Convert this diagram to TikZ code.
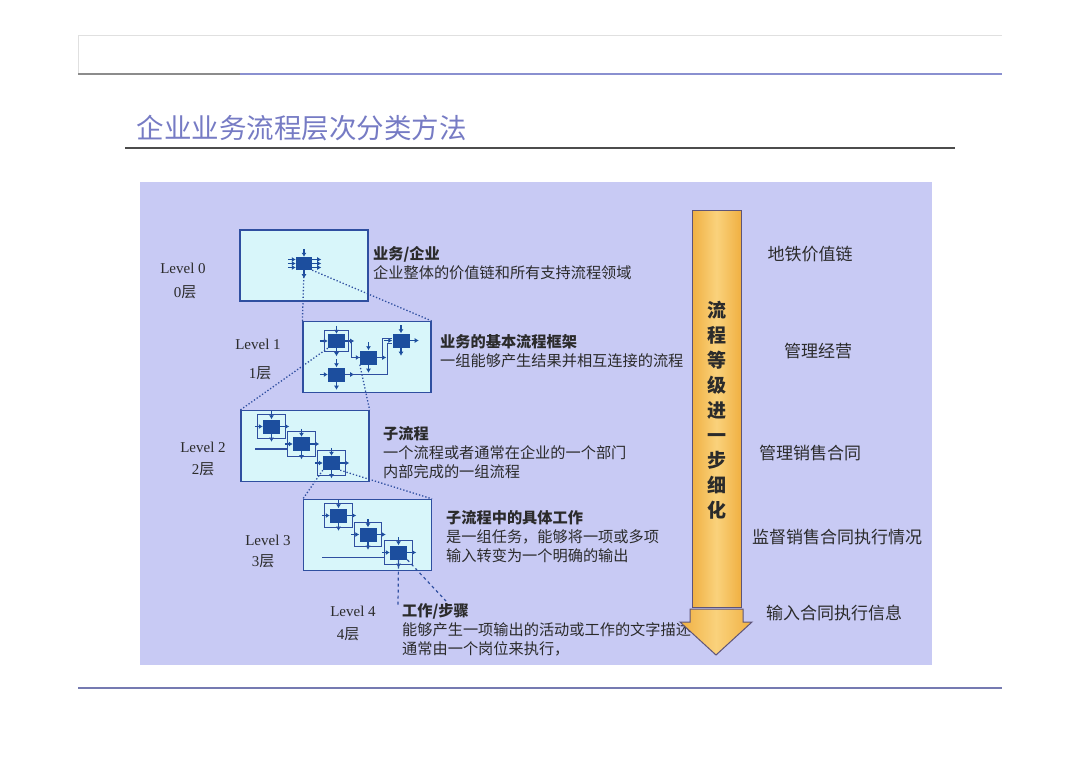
\documentclass[tikz,border=0pt]{standalone}
\usepackage{fontspec}
\setmainfont{Liberation Serif}
\newfontfamily\cjk{Noto Sans CJK SC}
\usepackage{tikz}
\usetikzlibrary{arrows.meta,positioning,fit}
\usepackage{xcolor}
\definecolor{panel}{HTML}{C8CAF4}
\definecolor{cyanbox}{HTML}{D8F6FA}
\definecolor{frame}{HTML}{2F4FA0}
\definecolor{icon}{HTML}{1C4E9E}
\definecolor{titleblue}{HTML}{767BC4}
\definecolor{headblue}{HTML}{8A90D0}
\definecolor{ink}{HTML}{2B2B2B}
\definecolor{orA}{HTML}{F0B042}
\definecolor{orB}{HTML}{FAD27C}
\definecolor{arrowedge}{HTML}{5E5478}

\begin{document}
\begin{tikzpicture}[x=1pt, y=-1pt, >=Latex, font=\cjk, text=ink,
  level/.style={draw=frame, line width=1.2pt, fill=cyanbox, minimum width=128pt, minimum height=71pt, inner sep=0pt},
  proc/.style={fill=icon, minimum width=17pt, minimum height=14pt, inner sep=0pt},
  frm/.style={draw=frame, line width=1.2pt, inner sep=5pt},
  wire/.style={draw=frame, line width=1.2pt},
  stub/.style={draw=icon, line width=1.5pt, -{Latex[length=4pt,width=5pt]}},
  zoomline/.style={draw=frame, line width=1.3pt, dotted},
  lvl/.style={font=\fontsize{15}{18}\selectfont\rmfamily},
  desc/.style={anchor=west, align=left, inner sep=0pt, font=\fontsize{15.2}{19}\selectfont\cjk},
  side/.style={font=\fontsize{17}{20}\selectfont\cjk}]
\useasboundingbox (0,0) rectangle (1080,763);

% page header and title
\draw[black!12, line width=0.8pt] (78,74) -- (78,35) -- (1002,35);
\draw[black!45, line width=1.4pt] (78,74) -- (240,74);
\draw[headblue, line width=2pt] (240,74) -- (1002,74);
\node[anchor=west, text=titleblue, font=\fontsize{27.5}{30}\selectfont\cjk] (title) at (133,128) {企业业务流程层次分类方法};
\draw[black!70, line width=1.4pt] (125,148) -- (955,148);
\fill[panel] (140,182) rectangle (932,665);
\draw[headblue!85!black, line width=2pt] (78,688) -- (1002,688);

% level boxes
\node[level] (l0) at (304,265.5) {};
\node[level] (l1) at (367,357) {};
\node[level] (l2) at (305,446) {};
\node[level] (l3) at (367.5,535) {};

% process icons
\node[proc, minimum width=16pt, minimum height=13pt] (a0) at (304,263.5) {};
\node[proc] (b1) at (336.5,341) {};
\node[proc] (b2) at (368.5,357.5) {};
\node[proc] (b3) at (401,340.5) {};
\node[proc] (b4) at (336.5,374.5) {};
\node[proc] (c1) at (271.5,426.5) {};
\node[proc] (c2) at (301.5,444) {};
\node[proc] (c3) at (331.5,463) {};
\node[proc] (d1) at (338.5,515.5) {};
\node[proc] (d2) at (368,534.5) {};
\node[proc] (d3) at (398.5,552.5) {};
\foreach \n in {a0,b1,b2,b3,b4,c1,c2,c3,d1,d2,d3} {
  \draw[stub] ([yshift=8pt]\n.north) -- (\n.north);
  \draw[stub] (\n.south) -- ([yshift=-8pt]\n.south);
  \draw[stub] ([xshift=-8pt]\n.west) -- (\n.west);
  \draw[stub] (\n.east) -- ([xshift=9pt]\n.east);
}
\foreach \s in {-4,4} {
  \draw[stub] ([xshift=-8pt,yshift=\s pt]a0.west) -- ([yshift=\s pt]a0.west);
  \draw[stub] ([yshift=\s pt]a0.east) -- ([xshift=9pt,yshift=\s pt]a0.east);
}

% frames and wires
\node[frm, fit=(b1), inner sep=3pt] (fb1) {};
\draw[wire] (fb1.east) -- ++(3,0) |- (b2.west);
\draw[wire] (b2.east) -- ++(5,0) |- ([yshift=2pt]b3.west);
\draw[wire] (b4.east) -- ++(42,0) |- ([yshift=-3pt]b3.west);
\node[frm, fit=(c1)] (fc1) {};
\node[frm, fit=(c2)] (fc2) {};
\node[frm, fit=(c3)] (fc3) {};
\draw[wire] ([yshift=-5pt]fc2.west) -- ++(-32,0);
\node[frm, fit=(d1)] (fd1) {};
\node[frm, fit=(d2)] (fd2) {};
\node[frm, fit=(d3)] (fd3) {};
\draw[wire] ([yshift=-5pt]fd3.west) -- ++(-62,0);

% zoom lines between levels
\coordinate (l4a) at (398,606);
\coordinate (l4b) at (446,601);
\draw[zoomline] (a0.south) -- (l1.north west);
\draw[zoomline] (a0.south east) -- (l1.north east);
\draw[zoomline] (b1.south west) -- (l2.north west);
\draw[zoomline] (b2.south west) -- (l2.north east);
\draw[zoomline] (c3.south west) -- (l3.north west);
\draw[zoomline] (c3.south east) -- (l3.north east);
\draw[frame, line width=1.2pt, dashed] (d3.south) -- (l4a);
\draw[frame, line width=1.2pt, dashed] (d3.south east) -- (l4b);

% level labels
\foreach \i/\x/\y/\xx/\yy in {0/183/268/185/292, 1/258/344/260/373, 2/203/447/203/469, 3/268/540/263/561, 4/353/611/348/634} {
  \node[lvl] (lv\i) at (\x,\y) {Level \i};
  \node[lvl] (ly\i) at (\xx,\yy) {\i{\cjk 层}};
}

% descriptions
\node[desc] (d0txt) at (373,263.5) {{\bfseries 业务/企业}\\企业整体的价值链和所有支持流程领域};
\node[desc] (d1txt) at (440,351.5) {{\bfseries 业务的基本流程框架}\\一组能够产生结果并相互连接的流程};
\node[desc] (d2txt) at (383,452.5) {{\bfseries 子流程}\\一个流程或者通常在企业的一个部门\\内部完成的一组流程};
\node[desc] (d3txt) at (446,537) {{\bfseries 子流程中的具体工作}\\是一组任务，能够将一项或多项\\输入转变为一个明确的输出};
\node[desc] (d4txt) at (402,629.5) {{\bfseries 工作/步骤}\\能够产生一项输出的活动或工作的文字描述\\通常由一个岗位来执行，};

% refinement arrow
\path[draw=arrowedge, line width=1pt, left color=orA, right color=orA, middle color=orB]
  (692,210) rectangle (741,607);
\path[draw=arrowedge, line width=1pt, left color=orA, right color=orA, middle color=orB]
  (690,609) -- (743,609) -- (743,622) -- (752,622) -- (716,655) -- (680,622) -- (690,622) -- cycle;
\node[align=center, font=\fontsize{19}{25}\selectfont\cjk\bfseries] (flowtxt) at (717,410) {流\\程\\等\\级\\进\\一\\步\\细\\化};

% right-hand examples
\node[side] (s0) at (810,254) {地铁价值链};
\node[side] (s1) at (818,351) {管理经营};
\node[side] (s2) at (810,453) {管理销售合同};
\node[side] (s3) at (837,537) {监督销售合同执行情况};
\node[side] (s4) at (834,613) {输入合同执行信息};
\end{tikzpicture}
\end{document}
